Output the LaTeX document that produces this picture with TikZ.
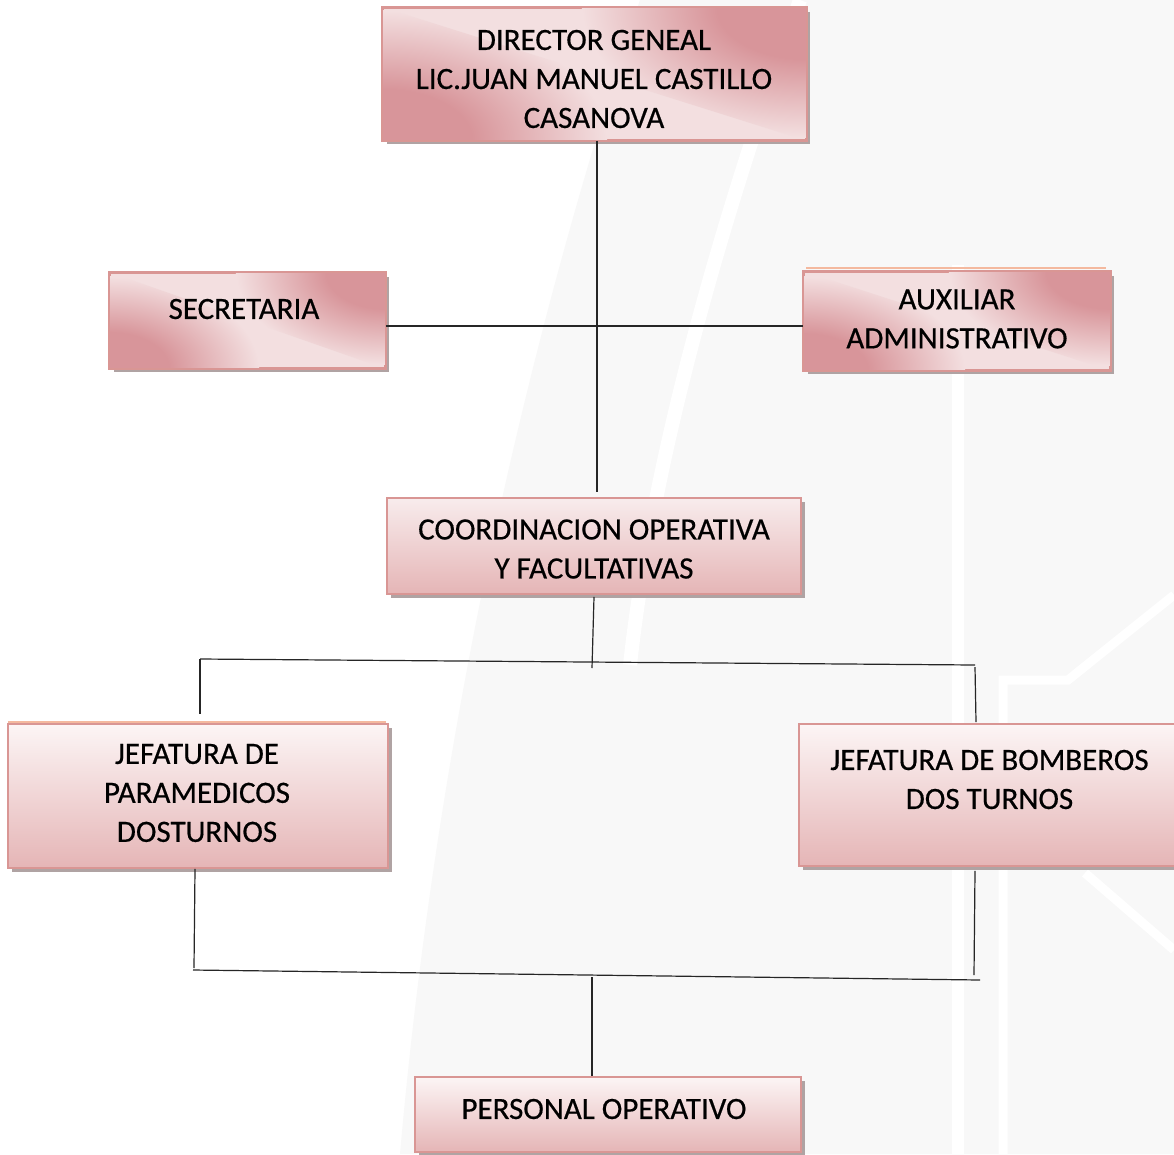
\documentclass[tikz,border=0pt]{standalone}
\usepackage{fontspec}
\setmainfont{Carlito}
\newfontfamily\boxfont{Carlito}[FakeBold=0.5]
\usetikzlibrary{shadows}
\definecolor{pkD}{HTML}{D8959A}
\definecolor{pkL}{HTML}{F3DFE0}
\definecolor{pkTop}{HTML}{FCF5F5}
\definecolor{pkBot}{HTML}{E5B5B6}
\definecolor{pkLine}{HTML}{D99694}
\definecolor{peach}{HTML}{F4B99F}
\definecolor{shd}{HTML}{A89A9A}
\definecolor{wm}{HTML}{F8F8F8}
\pgfdeclareradialshading{glowpk}{\pgfpoint{0bp}{0bp}}{color(0bp)=(pkD); color(10bp)=(pkD); color(25bp)=(pkL); color(50bp)=(pkL)}
\tikzset{
  boxbase/.style={draw=pkLine, line width=1.8pt, rectangle, inner sep=0pt,
    drop shadow={shadow xshift=4pt, shadow yshift=-4pt, fill=shd, opacity=0.9}},
  diagbox/.style={boxbase, fill=pkL},
  vertbox/.style={boxbase, top color=pkTop, bottom color=pkBot},
  txt/.style={align=center, font=\boxfont\fontsize{31}{39}\selectfont, inner sep=0pt},
  conn/.style={line width=1.2pt, draw=black!85},
  strip/.style={line width=2.2pt, draw=peach},
  glow/.style={shading=glowpk}
}
\newcommand{\cornerglow}[3]{%
  \begin{scope}
    \clip (#1.north west) -- (#1.north east) -- (#1.south east) -- cycle;
    \shade[glow] ([xshift=-#2pt, yshift=-#3pt]#1.north east) rectangle ([xshift=#2pt, yshift=#3pt]#1.north east);
  \end{scope}
  \begin{scope}
    \clip (#1.north west) -- (#1.south west) -- (#1.south east) -- cycle;
    \shade[glow] ([xshift=-#2pt, yshift=-#3pt]#1.south west) rectangle ([xshift=#2pt, yshift=#3pt]#1.south west);
  \end{scope}
  \draw[pkLine, line width=1.8pt] (#1.south west) rectangle (#1.north east);
}
\begin{document}
\begin{tikzpicture}[x=1pt, y=-1pt]
\useasboundingbox (0,0) rectangle (1174,1154);
\fill[white] (0,0) rectangle (1174,1154);
% faint watermark
\fill[wm] (640,0) .. controls (540,300) and (440,700) .. (400,1154) -- (1174,1154) -- (1174,0) -- cycle;
\draw[white, line width=14pt] (800,0) .. controls (710,250) and (650,480) .. (630,665);
\fill[white] (952,265) rectangle (964,1154);
\draw[white, line width=9pt] (1174,595) -- (1068,680) -- (1003,680) -- (1003,1154);
\draw[white, line width=9pt] (1085,873) -- (1174,950);

% boxes
\node[diagbox, minimum width=423pt, minimum height=132pt] (dir) at (594.5,74) {};
\cornerglow{dir}{225}{130}
\node[txt] (dirT) at (594,79) {DIRECTOR GENEAL\\LIC.JUAN MANUEL CASTILLO\\CASANOVA};

\node[diagbox, minimum width=275pt, minimum height=95pt] (sec) at (247.5,320.5) {};
\cornerglow{sec}{150}{92}
\node[txt] (secT) at (244,309) {SECRETARIA};

\draw[strip] (806,268) -- (1106,268);
\node[diagbox, minimum width=306pt, minimum height=98pt] (aux) at (957,321) {};
\cornerglow{aux}{162}{94}
\node[txt] (auxT) at (957,319) {AUXILIAR\\ADMINISTRATIVO};

\node[vertbox, top color=pkL!60!white, minimum width=414pt, minimum height=96pt] (coord) at (594,546) {};
\node[txt] (coordT) at (594,549) {COORDINACION OPERATIVA\\Y FACULTATIVAS};

\draw[strip] (8,722) -- (386,722);
\node[vertbox, minimum width=380pt, minimum height=144pt] (para) at (198,796) {};
\node[txt] (paraT) at (197,793) {JEFATURA DE\\PARAMEDICOS\\DOSTURNOS};

\node[vertbox, minimum width=381pt, minimum height=142pt] (bomb) at (989.5,795) {};
\node[txt] (bombT) at (989.5,779.5) {JEFATURA DE BOMBEROS\\DOS TURNOS};

\node[vertbox, minimum width=386pt, minimum height=75pt] (pers) at (608,1114.5) {};
\node[txt] (persT) at (604,1109) {PERSONAL OPERATIVO};

% junction coordinates
\coordinate (dirEnd) at (597,492);
\coordinate (h1L) at (200,659);
\coordinate (h1R) at (975,665);
\coordinate (h1M) at (592,668);
\coordinate (v1L) at (200,714);
\coordinate (v1R) at (976,722);
\coordinate (h2L) at (193,970);
\coordinate (h2R) at (980,980);
\coordinate (v2L) at (194,968);
\coordinate (v2R) at (974,975);
\coordinate (h2M) at (592,977);

% connectors
\draw[conn] (dir.south -| dirEnd) -- (dirEnd);
\draw[conn] (sec.east |- 0,326) -- (aux.west |- 0,326);
\draw[conn] (coord.south) ++(0,2) -- (h1M);
\draw[conn] (h1L) -- (h1R);
\draw[conn] (h1L) -- (v1L);
\draw[conn] (975,667) -- (v1R);
\draw[conn] (para.south) ++(-3,0) -- (v2L);
\draw[conn] (h2L) -- (h2R);
\draw[conn] (bomb.south -| 975,0) ++(0,4) -- (v2R);
\draw[conn] (h2M) -- (pers.north -| h2M);
\end{tikzpicture}
\end{document}
